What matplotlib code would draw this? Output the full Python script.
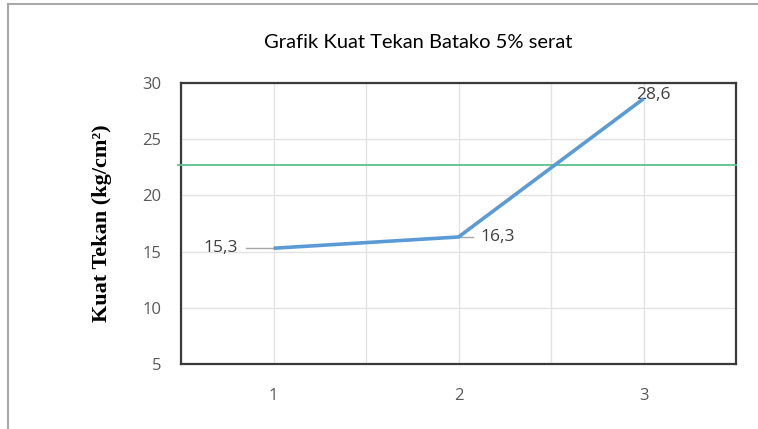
import matplotlib.pyplot as plt
from matplotlib.lines import Line2D

# data
samples = [1, 2, 3]
kuat_tekan = [15.3, 16.3, 28.6]
labels = ['15,3', '16,3', '28,6']
batas = 22.7  # green reference line

blue = '#5B9BD5'
green = '#5CC28A'
grey_txt = '#595959'

fig = plt.figure(figsize=(7.58, 4.29), dpi=100)
ax = fig.add_axes([181 / 758, 1 - 364 / 429, 555 / 758, 281 / 429])

# grid every 0.5 on x, every 5 on y
ax.set_xlim(0.5, 3.5)
ax.set_ylim(5, 30)
ax.set_xticks([0.5, 1, 1.5, 2, 2.5, 3, 3.5])
ax.set_xticklabels(['', '1', '', '2', '', '3', ''])
ax.set_yticks([5, 10, 15, 20, 25, 30])
ax.grid(True, color='#E3E3E3', lw=1)
ax.set_axisbelow(True)
ax.tick_params(length=0, colors=grey_txt, labelsize=12)
ax.tick_params(axis='x', pad=17)
ax.tick_params(axis='y', pad=14)
for t in ax.get_xticklabels() + ax.get_yticklabels():
    t.set_family('Open Sans')
for s in ax.spines.values():
    s.set_color('#3A3A3A')
    s.set_linewidth(1.6)

ax.plot([0.485, 3.5], [batas, batas], color=green, lw=1.3, clip_on=False, zorder=3)
ax.plot(samples, kuat_tekan, color=blue, lw=2.6, zorder=4, solid_capstyle='butt')

# data labels with leader lines
ax.plot([0.85, 1.0], [kuat_tekan[0]] * 2, color='#A6A6A6', lw=1, zorder=3)
ax.text(0.81, kuat_tekan[0], labels[0], ha='right', va='center', color='#404040',
        fontsize=12.5, family='Open Sans')
ax.plot([2.0, 2.08], [kuat_tekan[1]] * 2, color='#A6A6A6', lw=1, zorder=3)
ax.text(2.12, kuat_tekan[1], labels[1], ha='left', va='center', color='#404040',
        fontsize=12.5, family='Open Sans')
ax.text(2.96, kuat_tekan[2] + 0.35, labels[2], ha='left', va='center', color='#404040',
        fontsize=12.5, family='Open Sans')

ax.set_ylabel('Kuat Tekan (kg/cm²)', family='Liberation Serif', fontweight='bold',
              fontsize=16, color='black', labelpad=22)

fig.text(418 / 758, 1 - 42 / 429, 'Grafik Kuat Tekan Batako 5% serat', ha='center',
         va='center', fontsize=14.5, family='Lato', color='black')

# outer chart border (only top and left visible)
fig.add_artist(Line2D([8 / 758, 1], [1 - 4 / 429] * 2, color='#A8A8A8', lw=1.5))
fig.add_artist(Line2D([8 / 758] * 2, [0, 1 - 4 / 429], color='#A8A8A8', lw=1.5))

fig.savefig('out.png', dpi=100)
